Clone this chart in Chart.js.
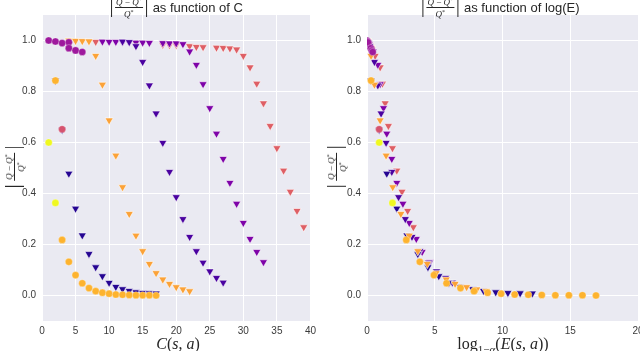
<!DOCTYPE html>
<html lang="en">
<head>
<meta charset="UTF-8">
<title>|Q-Q*|/Q* as function of C and log(E)</title>
<script src="https://cdn.jsdelivr.net/npm/chart.js@4.4.1/dist/chart.umd.min.js"></script>
<style>
    body {
        margin: 0;
        width: 640px;
        height: 351px;
        overflow: hidden;
        position: relative;
        background: #fff;
        font-family: 'Liberation Sans', Arial, sans-serif;
        color: #262626;
    }
    .panel { position: absolute; top: 0; height: 351px; }
    #left-panel { left: 0; width: 320px; }
    #right-panel { left: 320px; width: 334px; }

    .title {
        position: absolute;
        top: -2px;
        transform: translateX(-50%);
        display: flex;
        align-items: center;
        white-space: nowrap;
        font-size: 13px;
    }
    .title .txt { margin-left: 6px; }
    .absval {
        display: inline-flex;
        align-items: center;
        height: 19px;
        padding: 0 3px;
        border-left: 1px solid #262626;
        border-right: 1px solid #262626;
    }
    .frac {
        display: inline-flex;
        flex-direction: column;
        align-items: center;
        font-family: 'Liberation Serif', serif;
        font-style: italic;
        font-size: 9px;
        line-height: 9px;
    }
    .frac .num { border-bottom: 1px solid #262626; padding: 0 1px; }
    .frac sup { font-size: 6px; vertical-align: 3px; font-style: normal; }
    .frac .op { font-style: normal; }

    .ylab {
        position: absolute;
        transform: translate(-50%, -50%) rotate(-90deg);
        white-space: nowrap;
    }
    .ylab .absval { padding: 0 5px; }

    .xlab {
        position: absolute;
        top: 335px;
        transform: translateX(-50%);
        font-family: 'Liberation Serif', serif;
        font-size: 16px;
        white-space: nowrap;
    }
    .xlab sub { font-size: 11px; vertical-align: -4px; }
</style>
</head>
<body>
    <div class="panel" id="left-panel"><canvas id="leftChart"></canvas></div>
    <div class="panel" id="right-panel"><canvas id="rightChart"></canvas></div>

    <div class="title" style="left:177px">
        <span class="absval"><span class="frac"><span class="num">Q <span class="op">&minus;</span> Q<sup>*</sup></span><span>Q<sup>*</sup></span></span></span>
        <span class="txt">as function of C</span>
    </div>
    <div class="title" style="left:501px">
        <span class="absval"><span class="frac"><span class="num">Q <span class="op">&minus;</span> Q<sup>*</sup></span><span>Q<sup>*</sup></span></span></span>
        <span class="txt">as function of log(E)</span>
    </div>

    <div class="ylab" style="left:11px; top:167px">
        <span class="absval"><span class="frac"><span class="num">Q <span class="op">&minus;</span> Q<sup>*</sup></span><span>Q<sup>*</sup></span></span></span>
    </div>
    <div class="ylab" style="left:333px; top:167px">
        <span class="absval"><span class="frac"><span class="num">Q <span class="op">&minus;</span> Q<sup>*</sup></span><span>Q<sup>*</sup></span></span></span>
    </div>

    <div class="xlab" style="left:178px"><i>C</i>(<i>s</i>, <i>a</i>)</div>
    <div class="xlab" style="left:503px">log<sub>1&minus;<i>&alpha;</i></sub>(<i>E</i>(<i>s</i>, <i>a</i>))</div>

<script>
    // tick values
    const xTicksLeft = [0, 5, 10, 15, 20, 25, 30, 35, 40];
    const xTicksRight = [0, 5, 10, 15, 20];
    const yTicks = [0.0, 0.2, 0.4, 0.6, 0.8, 1.0];

    // each series: C (left x), logE (right x), |Q-Q*|/Q* (y)
    const magentaCircC = [1, 2, 3, 4, 4, 5, 6];
    const magentaCircE = [0.0, 0.04, 0.1, 0.07, 0.28, 0.36, 0.42];
    const magentaCircY = [1.0, 0.996, 0.99, 0.993, 0.97, 0.961, 0.955];

    const yellowCircC = [1, 2];
    const yellowCircE = [0.9, 1.88];
    const yellowCircY = [0.6, 0.363];

    const pinkCircC = [3];
    const pinkCircE = [0.9];
    const pinkCircY = [0.652];

    const orangeCircC = [2, 3, 4, 5, 6, 7, 8, 9, 10, 11, 12, 13, 14, 15, 16, 17];
    const orangeCircE = [0.3, 2.9, 3.9, 4.94, 5.87, 6.9, 7.9, 8.9, 9.9, 10.9, 11.9, 12.9, 13.9, 14.9, 15.9, 16.9];
    const orangeCircY = [0.843, 0.218, 0.132, 0.08, 0.048, 0.029, 0.017, 0.011, 0.007, 0.004, 0.003, 0.002, 0.001, 0.001, 0.001, 0.0];

    const orangeTriC = [4, 5, 6, 7, 8, 9, 10, 11, 12, 13, 14, 15, 16, 17, 18, 19, 20, 21, 22];
    const orangeTriE = [0.0, 0.01, 0.02, 0.03, 0.3, 0.55, 0.97, 1.41, 1.9, 2.5, 3.12, 3.75, 4.45, 5.1, 5.85, 6.5, 7.35, 8.1, 8.8];
    const orangeTriY = [1.0, 0.999, 0.998, 0.997, 0.94, 0.827, 0.687, 0.549, 0.425, 0.32, 0.235, 0.174, 0.124, 0.088, 0.063, 0.046, 0.033, 0.024, 0.017];

    const navyTriC = [2, 3, 4, 5, 6, 7, 8, 9, 10, 11, 12, 13, 14, 15, 16, 17];
    const navyTriE = [0.3, 0.9, 1.46, 2.2, 2.95, 3.75, 4.5, 5.3, 6.05, 6.9, 7.8, 8.6, 9.5, 10.4, 11.3, 12.2];
    const navyTriY = [0.843, 0.65, 0.478, 0.341, 0.236, 0.163, 0.111, 0.076, 0.05, 0.034, 0.025, 0.018, 0.013, 0.01, 0.009, 0.008];

    const indigoTriC = [12, 13, 14, 15, 16, 17, 18, 19, 20, 21, 22, 23, 24, 25, 26, 27];
    const indigoTriE = [0.04, 0.06, 0.2, 0.55, 0.8, 1.04, 1.41, 1.83, 2.33, 2.83, 3.32, 3.9, 4.55, 5.13, 5.8, 6.3];
    const indigoTriY = [0.996, 0.994, 0.978, 0.916, 0.824, 0.714, 0.599, 0.485, 0.386, 0.30, 0.23, 0.174, 0.129, 0.095, 0.069, 0.051];

    const purpleTriC = [9, 10, 11, 12, 13, 14, 15, 16, 18, 19, 20, 21, 22, 23, 24, 25, 26, 27, 28, 29, 30, 31, 32, 33];
    const purpleTriE = [0.03, 0.04, 0.05, 0.06, 0.07, 0.08, 0.09, 0.1, 0.11, 0.12, 0.13, 0.16, 0.45, 0.8, 0.97, 1.22, 1.46, 1.83, 2.2, 2.65, 3.12, 3.64, 4.07, 4.64];
    const purpleTriY = [0.996, 0.995, 0.995, 0.994, 0.993, 0.992, 0.992, 0.991, 0.99, 0.989, 0.989, 0.986, 0.957, 0.905, 0.829, 0.735, 0.635, 0.536, 0.442, 0.36, 0.285, 0.222, 0.171, 0.131];

    const pinkTriC = [8, 14, 18, 19, 20, 22, 23, 24, 26, 27, 28, 29, 30, 31, 32, 33, 34, 35, 36, 37, 38, 39];
    const pinkTriE = [0.05, 0.1, 0.17, 0.18, 0.18, 0.22, 0.25, 0.26, 0.28, 0.29, 0.31, 0.35, 0.6, 0.97, 1.14, 1.34, 1.58, 1.88, 2.2, 2.58, 3.0, 3.42];
    const pinkTriY = [0.995, 0.99, 0.983, 0.982, 0.982, 0.978, 0.975, 0.974, 0.972, 0.971, 0.969, 0.965, 0.94, 0.895, 0.831, 0.754, 0.665, 0.578, 0.49, 0.407, 0.332, 0.268];

    // first entry is drawn on top
    const series = [
        { c: pinkCircC, e: pinkCircE, y: pinkCircY, color: '#d5536f', marker: 'circle' },
        { c: yellowCircC, e: yellowCircE, y: yellowCircY, color: '#eff821', marker: 'circle' },
        { c: orangeCircC, e: orangeCircE, y: orangeCircY, color: '#fdb32f', marker: 'circle' },
        { c: magentaCircC, e: magentaCircE, y: magentaCircY, color: '#9e199d', marker: 'circle' },
        { c: orangeTriC, e: orangeTriE, y: orangeTriY, color: '#fba238', marker: 'triangle' },
        { c: navyTriC, e: navyTriE, y: navyTriY, color: '#250592', marker: 'triangle' },
        { c: indigoTriC, e: indigoTriE, y: indigoTriY, color: '#4a02a0', marker: 'triangle' },
        { c: purpleTriC, e: purpleTriE, y: purpleTriY, color: '#7e03a8', marker: 'triangle' },
        { c: pinkTriC, e: pinkTriE, y: pinkTriY, color: '#de5f65', marker: 'triangle' }
    ];

    const plotBackground = {
        id: 'plotBackground',
        beforeDraw(chart) {
            const { ctx, chartArea: a } = chart;
            ctx.save();
            ctx.fillStyle = '#eaeaf2';
            ctx.fillRect(a.left, a.top, a.right - a.left, a.bottom - a.top);
            ctx.restore();
        }
    };

    function makeChart(canvasId, xField, xMax, xTicks, yWidth, padRight) {
        const datasets = series.map(s => ({
            data: s[xField].map((x, i) => ({ x: x, y: s.y[i] })),
            pointStyle: s.marker,
            rotation: s.marker === 'triangle' ? 180 : 0,
            pointRadius: s.marker === 'triangle' ? 4.7 : 3.6,
            backgroundColor: s.color,
            borderColor: '#ffffff',
            borderWidth: s.marker === 'triangle' ? 0.6 : 0.3,
            showLine: false
        }));

        const tickFont = { family: "'Liberation Sans', Arial, sans-serif", size: 10 };

        return new Chart(document.getElementById(canvasId), {
            type: 'scatter',
            data: { datasets: datasets },
            options: {
                responsive: true,
                maintainAspectRatio: false,
                animation: false,
                layout: { padding: { top: 15, right: padRight, left: 0, bottom: 0 } },
                plugins: { legend: { display: false }, tooltip: { enabled: false } },
                scales: {
                    x: {
                        type: 'linear',
                        min: 0,
                        max: xMax,
                        afterBuildTicks: axis => { axis.ticks = xTicks.map(v => ({ value: v })); },
                        afterFit: axis => { axis.height = 30; },
                        grid: { color: '#ffffff', lineWidth: 1, drawTicks: false },
                        border: { display: false },
                        ticks: { color: '#3a3a3a', font: tickFont, padding: 4, callback: v => String(v) }
                    },
                    y: {
                        type: 'linear',
                        min: -0.1,
                        max: 1.1,
                        afterBuildTicks: axis => { axis.ticks = yTicks.map(v => ({ value: v })); },
                        afterFit: axis => { axis.width = yWidth; },
                        grid: { color: '#ffffff', lineWidth: 1, drawTicks: false },
                        border: { display: false },
                        ticks: { color: '#3a3a3a', font: tickFont, padding: 6, callback: v => v.toFixed(1) }
                    }
                }
            },
            plugins: [plotBackground]
        });
    }

    makeChart('leftChart', 'c', 40, xTicksLeft, 42, 5);
    makeChart('rightChart', 'e', 20, xTicksRight, 47, 16);
</script>
</body>
</html>
